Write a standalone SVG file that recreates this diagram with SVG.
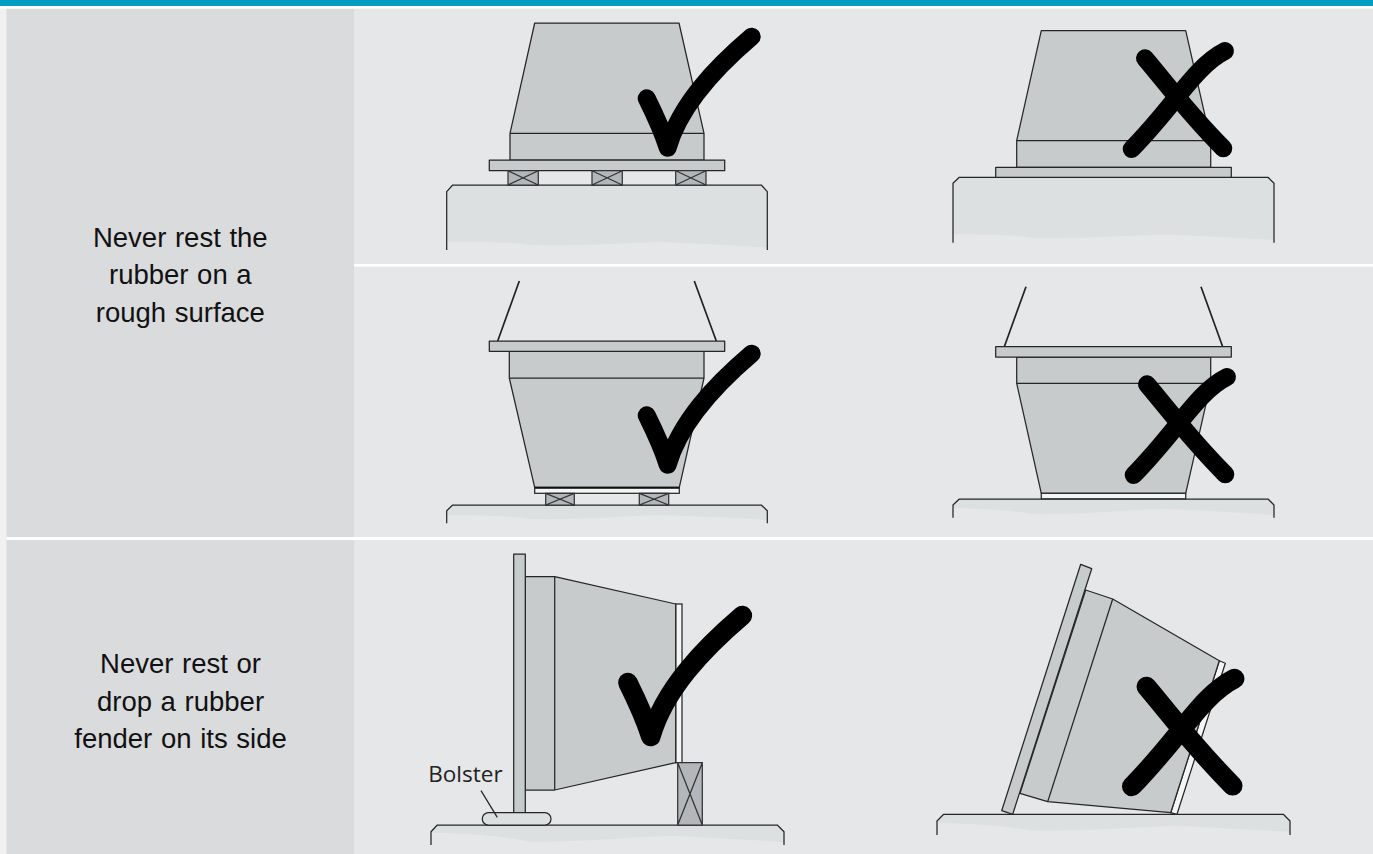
<svg xmlns="http://www.w3.org/2000/svg" width="1373" height="854" viewBox="0 0 1373 854">
<style>
.o{stroke:#262626;stroke-width:1.25;stroke-linejoin:round;fill:none}
.f{fill:#c7cbcc;stroke:#262626;stroke-width:1.25;stroke-linejoin:round}
.w{fill:#f4f5f5;stroke:#262626;stroke-width:1.25}
.b{fill:#b3b7b9;stroke:#333;stroke-width:1.25}
.g{fill:#dde0e1}
.wire{stroke:#222;stroke-width:1.7;fill:none}
.mark{fill:none;stroke:#000;stroke-width:18;stroke-linecap:round;stroke-linejoin:round}
.t{font-family:"Liberation Sans",Arial,sans-serif;font-size:27.5px;word-spacing:1px;fill:#111;text-anchor:middle}
.lab{font-family:"Open Sans",sans-serif;font-size:22.5px;fill:#222}
</style>
<defs>
<path id="check" class="mark" d="M646.7 98.3C655 115 662 130 667.7 147.7C680 105 715 68 751.7 36.7"/>
<path id="cross" class="mark" d="M1145 58.3C1170 88 1190 115 1223.3 148.3M1225 51C1195 66 1175 105 1131.7 149"/>
</defs>
<rect width="1373" height="854" fill="#e6e7e9"/>
<rect x="0" y="0" width="6.5" height="854" fill="#f1f1f1"/>
<rect x="6.5" y="9" width="347.5" height="845" fill="#dadbdd"/>
<rect y="6" width="1373" height="2.6" fill="#fff"/>
<rect width="1373" height="6" fill="#009fc2"/>
<rect x="354" y="264" width="1019" height="2.6" fill="#fff"/>
<rect x="6.5" y="537" width="1366.5" height="3" fill="#fff"/>

<g id="label-rough">
<text class="t" x="180.3" y="246.7">Never rest the</text>
<text class="t" x="180.3" y="284">rubber on a</text>
<text class="t" x="180.3" y="321.5">rough surface</text>
</g>
<g id="label-side">
<text class="t" x="180.5" y="672.7">Never rest or</text>
<text class="t" x="180.5" y="710.7">drop a rubber</text>
<text class="t" x="180.5" y="747.7">fender on its side</text>
</g>

<g id="fig-rest-ok">
<path class="g" d="M446.7 191.7L452.7 185H761.3L767.3 191.7V247.5C740 246 690 243 660 242C620 243 590 246 530 245C510 242 480 241.5 446.7 241.7Z"/>
<path class="o" d="M446.7 250V191.7L452.7 185H761.3L767.3 191.7V250"/>
<path class="f" d="M534.7 23H679L704 133.3V160H510V133.3Z"/>
<path class="o" d="M510 133.3H704"/>
<rect class="f" x="489.3" y="160" width="235.4" height="10.7"/>
<g id="blocks-1">
<path class="b" d="M508 170.7H538.3V185H508ZM508 170.7L538.3 185M538.3 170.7L508 185"/>
<path class="b" d="M592 170.7H622.3V185H592ZM592 170.7L622.3 185M622.3 170.7L592 185"/>
<path class="b" d="M675.7 170.7H706V185H675.7ZM675.7 170.7L706 185M706 170.7L675.7 185"/>
</g>
<use href="#check"/>
</g>

<g id="fig-rest-bad">
<path class="g" d="M953 183.3L959.3 177.3H1268L1274 183.3V240C1245 238.5 1195 235.5 1165 234.5C1125 235.5 1095 238.5 1035 238C1015 235 985 234.3 953 234.3Z"/>
<path class="o" d="M953 242.7V183.3L959.3 177.3H1268L1274 183.3V242.7"/>
<path class="f" d="M1041.3 30.7H1185.7L1210.7 140.7V167.3H1016.7V140.7Z"/>
<path class="o" d="M1016.7 140.7H1210.7"/>
<rect class="f" x="995.7" y="167.3" width="235.6" height="10"/>
<use href="#cross"/>
</g>

<g id="fig-hang-ok">
<path class="g" d="M446.7 510.7L452.7 505H761.3L767.3 510.7V520C740 518 690 516 660 515C620 516 590 520 530 519C510 516 480 515 446.7 515Z"/>
<path class="o" d="M446.7 523.3V510.7L452.7 505H761.3L767.3 510.7V523.3"/>
<path class="wire" d="M519.3 281L497.7 341M694.3 281L716.3 341"/>
<path class="f" d="M509.3 351.3H704V378L679.3 487.3H534.7L509.3 378Z"/>
<path class="o" d="M509.3 378H704"/>
<rect class="f" x="489.3" y="341" width="235.4" height="10.3"/>
<rect class="w" x="534.7" y="488" width="144.6" height="5.3"/>
<path d="M534.7 487.6H679.3" stroke="#111" stroke-width="1.8"/>
<path class="b" d="M545.7 493.3H574.3V505H545.7ZM545.7 493.3L574.3 505M574.3 493.3L545.7 505"/>
<path class="b" d="M639.3 493.3H668.7V505H639.3ZM639.3 493.3L668.7 505M668.7 493.3L639.3 505"/>
<use href="#check" y="317"/>
</g>

<g id="fig-hang-bad">
<path class="g" d="M953 505L959.3 499H1268L1274 505V515C1245 513 1195 510 1165 509C1125 510 1095 514 1035 514.3C1015 511 985 508.3 953 508.3Z"/>
<path class="o" d="M953 517.7V505L959.3 499H1268L1274 505V517.7"/>
<path class="wire" d="M1026 286.7L1004.3 346.7M1201 286.7L1222.7 346.7"/>
<path class="f" d="M1016.7 357H1210.7V383.3L1185.7 493.3H1041.3L1016.7 383.3Z"/>
<path class="o" d="M1016.7 383.3H1210.7"/>
<rect class="f" x="995.7" y="346.7" width="235.6" height="10.3"/>
<rect class="w" x="1041.3" y="493.3" width="144.4" height="5.5"/>
<use href="#cross" x="2" y="326"/>
</g>

<g id="fig-side-ok">
<path class="g" d="M431 831.7L437.3 825H777.3L784 831.7V842C750 840 700 837 670 836C625 837 590 842 530 841.7C510 838 480 833 431 833Z"/>
<path class="o" d="M431 845V831.7L437.3 825H777.3L784 831.7V845"/>
<rect class="w" x="675.7" y="604" width="6.3" height="158.7"/>
<path class="f" d="M525.3 576.7H554.7L675.7 604V762.7L554.7 790H525.3Z"/>
<path class="o" d="M554.7 576.7V790"/>
<rect class="f" x="513.7" y="554" width="11.6" height="258.7"/>
<path class="b" d="M677.7 762.7H702.3V825H677.7ZM677.7 762.7L702.3 825M702.3 762.7L677.7 825"/>
<rect x="482.3" y="812.7" width="68.7" height="12.3" rx="6.1" fill="#dde0e1" stroke="#262626" stroke-width="1.25"/>
<path class="o" d="M481 790.7L497.3 817.3"/>
<text class="lab" x="428.3" y="781.7">Bolster</text>
<use href="#check" transform="translate(-77 575.5) scale(1.09)"/>
</g>

<g id="fig-side-bad">
<path class="g" d="M937 821L943.7 814.3H1283.3L1290 821V832C1255 830 1205 827 1175 826C1130 827 1095 831 1035 830.7C1015 828 985 823.3 937 823.3Z"/>
<path class="o" d="M937 835V821L943.7 814.3H1283.3L1290 821V835"/>
<path class="w" d="M1219.3 660.7L1225.3 663.3L1177 814.3L1170.7 812.7Z"/>
<path class="f" d="M1085.7 590L1112.7 599L1219.3 660.7L1170.7 812.7L1047.7 801.7L1020 793.3Z"/>
<path class="o" d="M1112.7 599L1047.7 801.7"/>
<path class="f" d="M1080.7 564.3L1091.7 568.7L1012.7 814.3L1001.7 810.7Z"/>
<use href="#cross" transform="translate(-113 622.5) scale(1.1)"/>
</g>
</svg>
